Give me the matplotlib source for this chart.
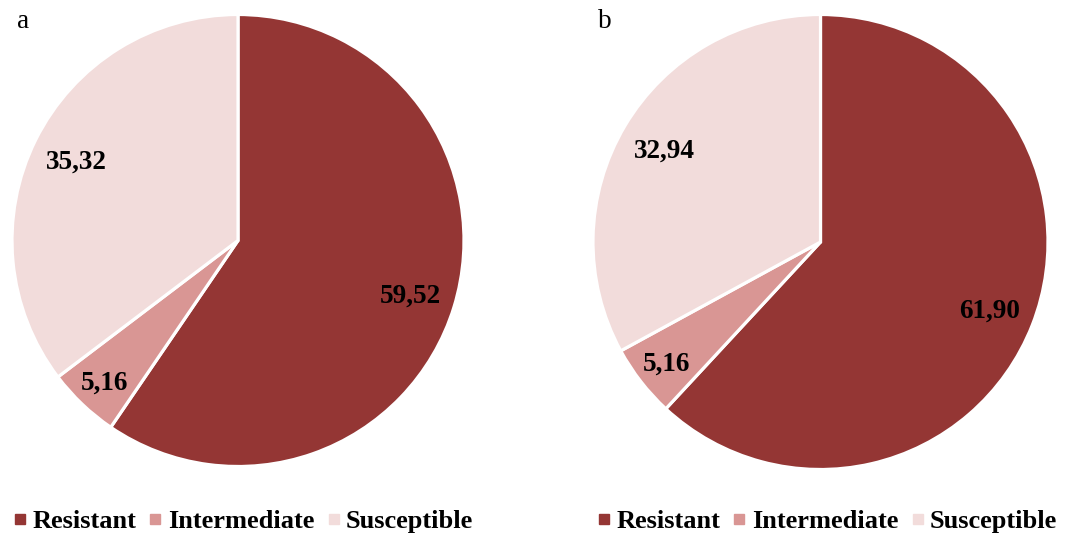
import numpy as np
import matplotlib.pyplot as plt
from matplotlib.lines import Line2D

plt.rcParams['font.family'] = ['Liberation Serif', 'DejaVu Serif']

categories = ["Resistant", "Intermediate", "Susceptible"]
values_a = [59.52, 5.16, 35.32]
values_b = [61.90, 5.16, 32.94]
panel_names = ["a", "b"]

colors = ["#943634", "#D99694", "#F2DCDB"]
label_r = [0.80, 0.86, 0.80]

W, H = 1067, 535
fig = plt.figure(figsize=(W / 100, H / 100), dpi=100)

# pie boxes in pixels: left, top, right, bottom
boxes = [(12, 14, 464, 467), (593, 14, 1048, 470)]
legend_x = [243, 827]


def fmt(v):
    return f"{v:.2f}".replace(".", ",")


for vals, name, box, lx in zip([values_a, values_b], panel_names, boxes, legend_x):
    l, t, r, b = box
    ax = fig.add_axes([l / W, 1 - b / H, (r - l) / W, (b - t) / H])
    wedges, _ = ax.pie(vals, colors=colors, startangle=90, counterclock=False,
                       wedgeprops=dict(edgecolor="white", linewidth=2.3))
    ax.set_xlim(-1, 1)
    ax.set_ylim(-1, 1)
    ax.set_aspect("equal")

    for w, v, rr in zip(wedges, vals, label_r):
        ang = np.deg2rad((w.theta1 + w.theta2) / 2)
        ax.text(rr * np.cos(ang), rr * np.sin(ang) - 0.01, fmt(v), ha="center", va="center",
                fontsize=19.5, fontweight="bold", color="black")

    fig.text((l + 5) / W, 1 - 22 / H, name, fontsize=19.5, ha="left", va="center")

    handles = [Line2D([], [], marker="s", linestyle="none", markersize=7.5,
                      markerfacecolor=c, markeredgecolor=c) for c in colors]
    fig.legend(handles, categories, loc="center", bbox_to_anchor=(lx / W, 1 - 521 / H),
               ncol=3, frameon=False, handlelength=0.55, handletextpad=0.2,
               columnspacing=0.45, prop=dict(size=19, weight="bold"))

fig.savefig("out.png", dpi=100)
